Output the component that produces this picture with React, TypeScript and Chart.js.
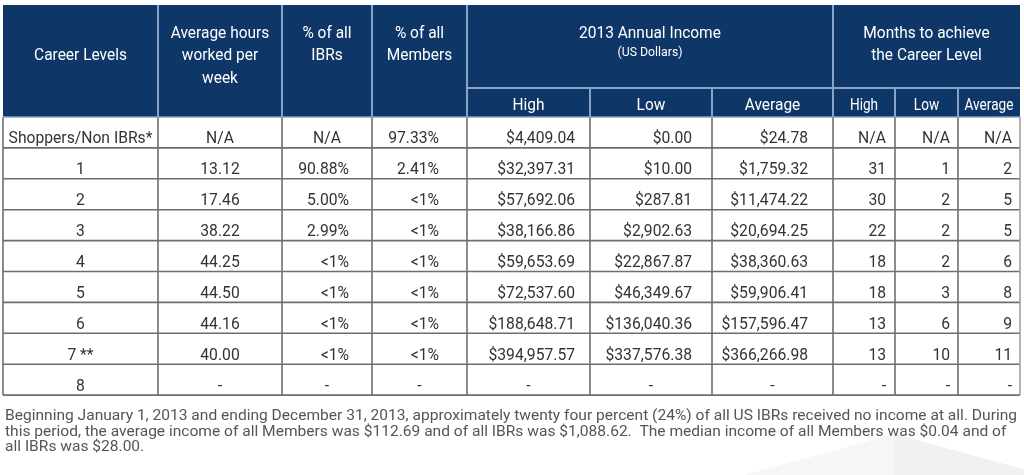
import React, { useEffect, useRef } from "react";
import { Chart, registerables } from "chart.js";
Chart.register(...registerables);

// ---------- data ----------
const careerLevels = ["Shoppers/Non IBRs*", "1", "2", "3", "4", "5", "6", "7 **", "8"];
const avgHours = ["N/A", "13.12", "17.46", "38.22", "44.25", "44.50", "44.16", "40.00", "-"];
const pctIBRs = ["N/A", "90.88%", "5.00%", "2.99%", "<1%", "<1%", "<1%", "<1%", "-"];
const pctMembers = ["97.33%", "2.41%", "<1%", "<1%", "<1%", "<1%", "<1%", "<1%", "-"];
const incomeHigh = ["$4,409.04", "$32,397.31", "$57,692.06", "$38,166.86", "$59,653.69", "$72,537.60", "$188,648.71", "$394,957.57", "-"];
const incomeLow = ["$0.00", "$10.00", "$287.81", "$2,902.63", "$22,867.87", "$46,349.67", "$136,040.36", "$337,576.38", "-"];
const incomeAvg = ["$24.78", "$1,759.32", "$11,474.22", "$20,694.25", "$38,360.63", "$59,906.41", "$157,596.47", "$366,266.98", "-"];
const monthsHigh = ["N/A", "31", "30", "22", "18", "18", "13", "13", "-"];
const monthsLow = ["N/A", "1", "2", "2", "2", "3", "6", "10", "-"];
const monthsAvg = ["N/A", "2", "5", "5", "6", "8", "9", "11", "-"];

const columnHeaders = [
  ["Career Levels"],
  ["Average hours", "worked per", "week"],
  ["% of all", "IBRs"],
  ["% of all", "Members"],
];
const incomeGroupTitle = "2013 Annual Income";
const incomeGroupSub = "(US Dollars)";
const monthsGroupTitle = ["Months to achieve", "the Career Level"];
const subHeaders = ["High", "Low", "Average", "High", "Low", "Average"];

const footnote = [
  "Beginning January 1, 2013 and ending December 31, 2013, approximately twenty four percent (24%) of all US IBRs received no income at all. During",
  "this period, the average income of all Members was $112.69 and of all IBRs was $1,088.62.  The median income of all Members was $0.04 and of",
  "all IBRs was $28.00.",
];

// ---------- layout ----------
const COL_X = [3, 158, 282, 372, 467, 590, 712, 833, 895, 958, 1020];
const HEAD_TOP = 5;
const HEAD_SPLIT = 88;
const HEAD_BOTTOM = 117;
const ROW_H = 30.9;
// per-column alignment: "center" or right inset in px
const COL_ALIGN: (number | "center")[] = ["center", "center", 23, 28, 15, 20, 25, 9, 8, 8];
const NAVY = "#0e3768";
const HEAD_LINE = "#88a3c6";
const BODY_LINE = "#6e6e6e";
const BODY_TEXT = "#333333";
const FOOT_TEXT = "#555555";
const FONT = "Roboto, 'Noto Sans', sans-serif";

function drawText(
  ctx: CanvasRenderingContext2D,
  text: string,
  x: number,
  y: number,
  align: "left" | "center" | "right",
  size: number,
  scaleX: number,
  color: string
) {
  ctx.save();
  ctx.font = `${size}px ${FONT}`;
  ctx.fillStyle = color;
  ctx.textBaseline = "alphabetic";
  ctx.textAlign = "left";
  const w = ctx.measureText(text).width * scaleX;
  const left = align === "center" ? x - w / 2 : align === "right" ? x - w : x;
  ctx.translate(left, y);
  ctx.scale(scaleX, 1);
  ctx.fillText(text, 0, 0);
  ctx.restore();
}

const tablePlugin = {
  id: "tablePlugin",
  afterDraw(chart: any) {
    const ctx: CanvasRenderingContext2D = chart.ctx;
    const X = (v: number) => chart.scales.x.getPixelForValue(v);
    const Y = (v: number) => chart.scales.y.getPixelForValue(v);
    const columns = [careerLevels, avgHours, pctIBRs, pctMembers, incomeHigh, incomeLow, incomeAvg, monthsHigh, monthsLow, monthsAvg];
    const nRows = careerLevels.length;
    const rowBottom = (i: number) => HEAD_BOTTOM + (i + 1) * ROW_H;
    const tableBottom = rowBottom(nRows - 1);

    ctx.save();
    // faint watermark
    ctx.fillStyle = "#f6f6f6";
    ctx.beginPath();
    ctx.moveTo(X(895), Y(434));
    ctx.lineTo(X(745), Y(475));
    ctx.lineTo(X(895), Y(475));
    ctx.closePath();
    ctx.fill();
    ctx.fillStyle = "#f1f1f1";
    ctx.beginPath();
    ctx.moveTo(X(895), Y(434));
    ctx.lineTo(X(1045), Y(475));
    ctx.lineTo(X(895), Y(475));
    ctx.closePath();
    ctx.fill();

    // header background
    ctx.fillStyle = NAVY;
    ctx.fillRect(X(COL_X[0]), Y(HEAD_TOP), X(COL_X[10]) - X(COL_X[0]), Y(HEAD_BOTTOM) - Y(HEAD_TOP));

    // header lines
    ctx.strokeStyle = HEAD_LINE;
    ctx.lineWidth = 2;
    const line = (x1: number, y1: number, x2: number, y2: number) => {
      ctx.beginPath();
      ctx.moveTo(X(x1), Y(y1));
      ctx.lineTo(X(x2), Y(y2));
      ctx.stroke();
    };
    [1, 2, 3, 4, 7].forEach((c) => line(COL_X[c], HEAD_TOP, COL_X[c], HEAD_BOTTOM));
    [5, 6, 8, 9].forEach((c) => line(COL_X[c], HEAD_SPLIT, COL_X[c], HEAD_BOTTOM));
    line(COL_X[4], HEAD_SPLIT, COL_X[10], HEAD_SPLIT);

    // body lines
    ctx.strokeStyle = BODY_LINE;
    ctx.lineWidth = 1.6;
    for (let i = 0; i < nRows; i++) line(COL_X[0], rowBottom(i), COL_X[10], rowBottom(i));
    for (let c = 0; c < COL_X.length; c++) {
      ctx.strokeStyle = c === COL_X.length - 1 ? "#a0a0a0" : BODY_LINE;
      line(COL_X[c], HEAD_BOTTOM, COL_X[c], tableBottom);
    }
    ctx.strokeStyle = HEAD_LINE;
    ctx.lineWidth = 1.5;
    line(COL_X[0], HEAD_BOTTOM, COL_X[10], HEAD_BOTTOM);

    // header text
    const HS = 17;
    const HX = 0.91;
    const baselines = [37.5, 60, 82.5];
    columnHeaders.forEach((lines, c) => {
      const cx = (X(COL_X[c]) + X(COL_X[c + 1])) / 2;
      lines.forEach((t, k) => {
        const by = lines.length === 1 ? Y(baselines[1]) : Y(baselines[k]);
        drawText(ctx, t, cx, by, "center", HS, HX, "#ffffff");
      });
    });
    const incCx = (X(COL_X[4]) + X(COL_X[7])) / 2;
    drawText(ctx, incomeGroupTitle, incCx, Y(37.5), "center", HS, HX, "#ffffff");
    drawText(ctx, incomeGroupSub, incCx, Y(56), "center", 13.5, HX, "#ffffff");
    const monCx = (X(COL_X[7]) + X(COL_X[10])) / 2;
    monthsGroupTitle.forEach((t, k) => drawText(ctx, t, monCx, Y(baselines[k]), "center", HS, HX, "#ffffff"));
    subHeaders.forEach((t, k) => {
      const c = 4 + k;
      const cx = (X(COL_X[c]) + X(COL_X[c + 1])) / 2;
      drawText(ctx, t, cx, Y(110), "center", HS, k >= 3 ? 0.8 : HX, "#ffffff");
    });

    // body text
    const BS = 16.5;
    const BX = 0.95;
    columns.forEach((col, c) => {
      col.forEach((v, i) => {
        const by = Y(rowBottom(i) - 4.5);
        const a = COL_ALIGN[c];
        const centered = a === "center" || v === "N/A" && c < 7 || (v === "-" && c < 7);
        if (centered) {
          let cx = (X(COL_X[c]) + X(COL_X[c + 1])) / 2;
          drawText(ctx, v, cx, by, "center", BS, BX, BODY_TEXT);
        } else {
          drawText(ctx, v, X(COL_X[c + 1] - (a as number)), by, "right", BS, BX, BODY_TEXT);
        }
      });
    });

    // footnote
    ctx.font = `15px ${FONT}`;
    const natural = ctx.measureText(footnote[0]).width;
    const fx = (X(1017) - X(5)) / natural;
    const fBase = [420, 435.5, 451];
    footnote.forEach((t, k) => drawText(ctx, t, X(5), Y(fBase[k]), "left", 15, fx, FOOT_TEXT));
    ctx.restore();
  },
};

export default function App() {
  const ref = useRef<HTMLCanvasElement | null>(null);
  useEffect(() => {
    document.body.style.margin = "0";
    const canvas = ref.current;
    if (!canvas) return;
    const chart = new Chart(canvas, {
      type: "scatter",
      data: { datasets: [] },
      options: {
        responsive: false,
        maintainAspectRatio: false,
        animation: false,
        events: [],
        layout: { padding: 0 },
        plugins: { legend: { display: false }, tooltip: { enabled: false } },
        scales: {
          x: { type: "linear", min: 0, max: 1024, display: false },
          y: { type: "linear", min: 0, max: 475, reverse: true, display: false },
        },
      },
      plugins: [tablePlugin],
    });
    return () => chart.destroy();
  }, []);
  return (
    <div style={{ width: 1024, height: 475, background: "#ffffff" }}>
      <canvas ref={ref} width={1024} height={475} style={{ display: "block" }} />
    </div>
  );
}
